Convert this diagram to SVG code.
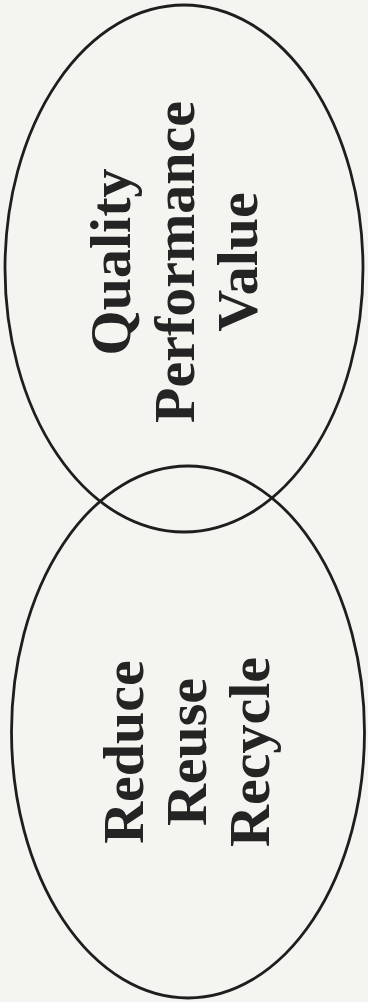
<svg xmlns="http://www.w3.org/2000/svg" width="368" height="1002" viewBox="0 0 368 1002">
<style>
.bg{fill:#f4f4f0}
.ring{fill:none;stroke:#1e1e1e;stroke-width:2.8}
.lbl{font-family:"Liberation Serif","Times New Roman",serif;font-weight:bold;font-size:58px;fill:#242424;text-anchor:middle}
</style>
<rect class="bg" x="0" y="0" width="368" height="1002"/>
<g id="node-top">
<ellipse class="ring" cx="184" cy="268.5" rx="179" ry="263.5"/>
<g transform="translate(0,262) rotate(-90)">
<text class="lbl" x="0" y="130">Quality</text>
<text class="lbl" x="0" y="194">Performance</text>
<text class="lbl" x="0" y="257">Value</text>
</g>
</g>
<g id="node-bottom">
<ellipse class="ring" cx="188" cy="732" rx="176.5" ry="266"/>
<g transform="translate(0,752) rotate(-90)">
<text class="lbl" x="0" y="143">Reduce</text>
<text class="lbl" x="0" y="206">Reuse</text>
<text class="lbl" x="0" y="269">Recycle</text>
</g>
</g>
<g id="connectors"/>
</svg>
